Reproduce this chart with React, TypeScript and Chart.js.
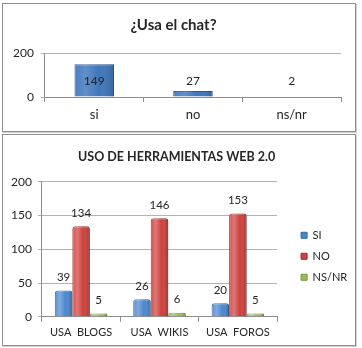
import React, { useEffect, useRef } from 'react';
import { Chart, registerables } from 'chart.js';
Chart.register(...registerables);

// ---- data ----
const chatTitle = '¿Usa el chat?';
const chatCategories = ['si', 'no', 'ns/nr'];
const chatValues = [149, 27, 2];
const chatLabelLevel = 73; // data labels sit at this axis value in the reference

const webTitle = 'USO DE HERRAMIENTAS WEB 2.0';
const webCategories = ['USA  BLOGS', 'USA  WIKIS', 'USA  FOROS'];
const seriesNames = ['SI', 'NO', 'NS/NR'];
const siValues = [39, 26, 20];
const noValues = [134, 146, 153];
const nsnrValues = [5, 6, 5];

const FONT = 'Lato, "Open Sans", sans-serif';
const TEXT = '#262626';
const GRID = '#b3b3b3';
const AXIS = '#8c8c8c';

const shadePlugin = {
  id: 'shade',
  afterDatasetsDraw(chart: any, _a: any, opts: any) {
    const { ctx } = chart;
    const strength = opts && opts.strength != null ? opts.strength : 1;
    chart.data.datasets.forEach((_ds: any, di: number) => {
      const meta = chart.getDatasetMeta(di);
      meta.data.forEach((bar: any) => {
        const { x, y, width, base } = bar.getProps(['x', 'y', 'width', 'base'], true);
        const left = x - width / 2;
        const h = base - y;
        if (h <= 0) return;
        const g = ctx.createLinearGradient(left, 0, left + width, 0);
        g.addColorStop(0, `rgba(255,255,255,${0.08 * strength})`);
        g.addColorStop(0.28, `rgba(255,255,255,${0.3 * strength})`);
        g.addColorStop(0.62, 'rgba(255,255,255,0)');
        g.addColorStop(1, `rgba(0,0,0,${0.3 * strength})`);
        ctx.save();
        ctx.fillStyle = g;
        ctx.beginPath();
        const r = Math.min(opts && opts.radius != null ? opts.radius : 3, h / 2, width / 2);
        (ctx as any).roundRect(left, y, width, h, [r, r, 0, 0]);
        ctx.fill();
        ctx.restore();
      });
    });
  },
};

const labelPlugin = {
  id: 'valueLabels',
  afterDatasetsDraw(chart: any, _a: any, opts: any) {
    const { ctx } = chart;
    ctx.save();
    ctx.font = `${opts.size}px ${FONT}`;
    ctx.fillStyle = TEXT;
    ctx.textAlign = 'center';
    ctx.textBaseline = 'middle';
    chart.data.datasets.forEach((ds: any, di: number) => {
      const meta = chart.getDatasetMeta(di);
      meta.data.forEach((bar: any, i: number) => {
        const v = ds.data[i];
        const y = opts.level != null ? chart.scales.y.getPixelForValue(opts.level) : bar.y - opts.offset;
        ctx.fillText(String(v), bar.x, y);
      });
    });
    ctx.restore();
  },
};

function ChatChart() {
  const ref = useRef<HTMLCanvasElement>(null);
  useEffect(() => {
    const chart = new Chart(ref.current!, {
      type: 'bar',
      data: {
        labels: chatCategories,
        datasets: [
          {
            label: 'chat',
            data: chatValues,
            backgroundColor: '#3f77bc',
            borderColor: '#2a5690',
            borderWidth: 1,
            borderSkipped: 'bottom',
            barPercentage: 0.4,
            categoryPercentage: 1,
          },
        ],
      },
      options: {
        animation: false,
        responsive: false,
        events: [],
        layout: { padding: { left: 3, right: 14, top: 0, bottom: 3.4 } },
        plugins: {
          legend: { display: false },
          tooltip: { enabled: false },
          title: {
            display: true,
            text: chatTitle,
            color: TEXT,
            font: { family: FONT, size: 15, weight: 'bold' },
            padding: { top: 12, bottom: 19 },
          },
          shade: { strength: 0.6, radius: 1 },
          valueLabels: { size: 12, level: chatLabelLevel },
        } as any,
        scales: {
          x: {
            grid: { drawOnChartArea: false, color: AXIS, tickLength: 5 },
            border: { color: AXIS },
            ticks: { color: TEXT, font: { family: FONT, size: 13 }, padding: 5, maxRotation: 0, autoSkip: false },
          },
          y: {
            min: 0,
            max: 200,
            ticks: { stepSize: 200, color: TEXT, font: { family: FONT, size: 12 }, padding: 7 },
            grid: { color: GRID, tickLength: 4 },
            border: { color: AXIS },
          },
        },
      },
      plugins: [shadePlugin, labelPlugin],
    });
    return () => chart.destroy();
  }, []);
  return <canvas ref={ref} width={352} height={127} style={{ position: 'absolute', left: 0, top: 0 }} />;
}

function WebChart() {
  const ref = useRef<HTMLCanvasElement>(null);
  useEffect(() => {
    const mk = (label: string, data: number[], color: string, border: string) => ({
      label,
      data,
      backgroundColor: color,
      borderColor: border,
      borderWidth: 1,
      borderRadius: { topLeft: 3, topRight: 3, bottomLeft: 0, bottomRight: 0 },
      borderSkipped: 'bottom' as const,
      barPercentage: 1,
      categoryPercentage: 0.67,
    });
    const chart = new Chart(ref.current!, {
      type: 'bar',
      data: {
        labels: webCategories,
        datasets: [
          mk(seriesNames[0], siValues, '#4a86cf', '#2f64a6'),
          mk(seriesNames[1], noValues, '#cf3f3b', '#9e2b28'),
          mk(seriesNames[2], nsnrValues, '#9bbb59', '#76933c'),
        ],
      },
      options: {
        animation: false,
        responsive: false,
        events: [],
        layout: { padding: { left: 2, right: 6.7, top: 0, bottom: 2 } },
        plugins: {
          legend: {
            position: 'right',
            fullSize: false,
            title: { display: true, text: '', font: { size: 10, lineHeight: 1 }, padding: { top: 4, bottom: 0 } },
            labels: {
              boxWidth: 6,
              boxHeight: 6,
              padding: 10,
              color: TEXT,
              font: { family: FONT, size: 11 },
            },
          },
          tooltip: { enabled: false },
          title: {
            display: true,
            text: webTitle,
            color: TEXT,
            font: { family: FONT, size: 12.5, weight: 'bold' },
            padding: { top: 14, bottom: 17.7 },
          },
          shade: { strength: 1, radius: 3 },
          valueLabels: { size: 11.5, offset: 13 },
        } as any,
        scales: {
          x: {
            grid: { drawOnChartArea: false, color: AXIS, tickLength: 5 },
            border: { color: AXIS },
            ticks: { color: TEXT, font: { family: FONT, size: 11 }, padding: 4, maxRotation: 0, autoSkip: false },
          },
          y: {
            min: 0,
            max: 200,
            ticks: { stepSize: 50, color: TEXT, font: { family: FONT, size: 12 }, padding: 6 },
            grid: { color: GRID, tickLength: 4 },
            border: { color: AXIS },
          },
          gap: {
            type: 'linear',
            position: 'right',
            display: true,
            grid: { display: false },
            border: { display: false },
            ticks: { display: false },
            afterFit: (s: any) => {
              s.width = 14;
            },
          },
        } as any,
      },
      plugins: [shadePlugin, labelPlugin],
    });
    return () => chart.destroy();
  }, []);
  return <canvas ref={ref} width={352} height={210} style={{ position: 'absolute', left: 0, top: 0 }} />;
}

const boxStyle = (top: number, height: number): React.CSSProperties => ({
  position: 'absolute',
  left: 2,
  top,
  width: 354,
  height,
  boxSizing: 'border-box',
  border: '1px solid #8e8e8e',
  boxShadow: '1px 1px 0 #cfcfcf',
  background: '#fff',
  overflow: 'hidden',
});

export default function App() {
  return (
    <div style={{ position: 'absolute', left: 0, top: 0, width: 362, height: 348, background: '#fff' }}>
      <div style={boxStyle(3, 129)}>
        <ChatChart />
      </div>
      <div style={boxStyle(134, 212)}>
        <WebChart />
      </div>
    </div>
  );
}
